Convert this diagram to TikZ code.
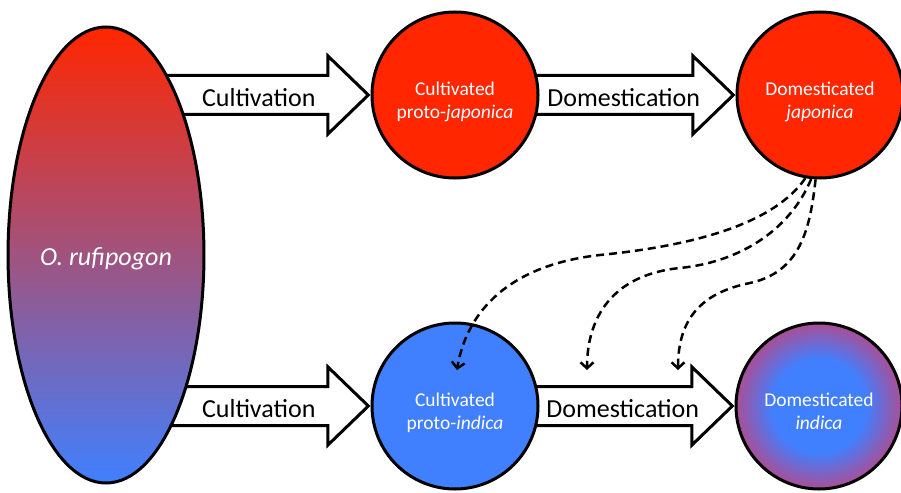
\documentclass[tikz,border=0pt]{standalone}
\usepackage{fontspec}
\setmainfont{Carlito}
\usetikzlibrary{
  arrows.meta,
  backgrounds,
  positioning,
  shapes.arrows,
  shapes.geometric
}
\definecolor{japonicared}{RGB}{255,38,0}
\definecolor{indicablue}{RGB}{64,128,255}
\definecolor{mixpurple}{RGB}{162,78,150}
\definecolor{rimpurple}{RGB}{170,78,150}
% Blue in the middle, purple only towards the rim.
\pgfdeclareradialshading{hybrid}{\pgfpoint{0bp}{0bp}}{%
  color(0bp)=(indicablue); color(14bp)=(indicablue);
  color(25bp)=(rimpurple); color(50bp)=(rimpurple)}
\tikzset{
  % For the wild ancestor.
  ancestor/.style={
    ellipse,
    draw,
    line width=3pt,
    minimum width=188pt,
    minimum height=456pt,
    top color=japonicared,
    middle color=mixpurple,
    bottom color=indicablue,
    text=white,
    text height=20pt,
    text depth=0pt,
    font=\fontsize{26}{31}\selectfont\itshape},
%
  % For the rice populations.
  population/.style={
    circle,
    draw,
    line width=3pt,
    minimum size=166pt,
    inner sep=0pt,
    text=white,
    align=center,
    text height=52pt,
    text depth=6pt,
    font=\fontsize{19.5}{23}\selectfont},
%
  % For the fat process arrows.
  process/.style={
    single arrow,
    draw,
    fill=white,
    line width=3pt,
    single arrow head extend=19.5pt,
    single arrow tip angle=88,
    inner xsep=0pt,
    inner ysep=0pt,
    text height=29.5pt,
    text depth=6.5pt,
    anchor=tip,
    font=\fontsize{26}{31}\selectfont},
%
  % For the dashed curves with one arrow.
  flow/.style={
    line width=2.5pt,
    dash pattern=on 8pt off 5pt,
    -{Straight Barb[length=6pt,width=13pt]}}
}

\begin{document}
\begin{tikzpicture}[x=1pt,y=-1pt]
  \useasboundingbox (0,0) rectangle (901,492);

  \node[ancestor] (rufipogon) at (106,255) {O. rufipogon};

  \node[population, fill=japonicared] (proto japonica) at (455,95)
    {Cultivated\\proto-\textit{japonica}};
  \node[population, fill=japonicared] (dom japonica) at (820,95)
    {Domesticated\\\textit{japonica}};
  \node[population, fill=indicablue] (proto indica) at (455,406)
    {Cultivated\\proto-\textit{indica}};
  \node[population, shading=hybrid] (dom indica) at (819,406)
    {Domesticated\\\textit{indica}};

  \begin{scope}[on background layer]
    \node[process, minimum height=225pt] (cultivation japonica)
      at (proto japonica.west) {\hspace*{26pt}Cultivation};
    \node[process, minimum height=212pt] (domestication japonica)
      at (dom japonica.west) {\hspace*{13pt}Domestication};
    \node[process, minimum height=225pt] (cultivation indica)
      at (proto indica.west) {\hspace*{26pt}Cultivation};
    \node[process, minimum height=212pt] (domestication indica)
      at (dom indica.west) {\hspace*{13pt}Domestication};
  \end{scope}

  \coordinate (flow end a) at (457,370);
  \coordinate (flow end b) at (587,370);
  \coordinate (flow end c) at (678,370);

  \draw[flow] (dom japonica.-100)
                .. controls (775,222) and (700,245) .. (600,255)
                .. controls (500,266) and (465,320) .. (flow end a);
  \draw[flow] (dom japonica.-96)
                .. controls (790,230) and (740,262) .. (680,268)
                .. controls (610,275) and (587,320) .. (flow end b);
  \draw[flow] (dom japonica.-93)
                .. controls (810,230) and (800,272) .. (750,283)
                .. controls (700,293) and (678,320) .. (flow end c);
\end{tikzpicture}
\end{document}
